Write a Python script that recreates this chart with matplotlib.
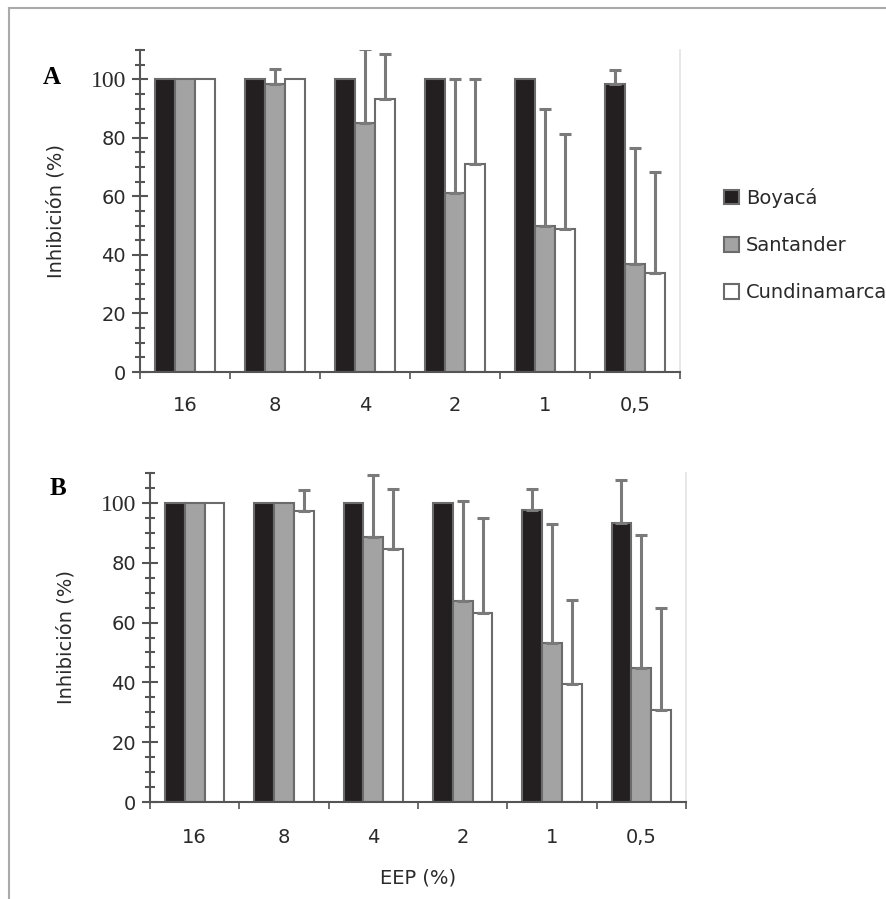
import matplotlib
matplotlib.use("Agg")
import matplotlib.pyplot as plt
import numpy as np
from matplotlib.lines import Line2D
from matplotlib.patches import Patch

categories = ["16", "8", "4", "2", "1", "0,5"]
series = ["Boyacá", "Santander", "Cundinamarca"]

a_boyaca = [100, 100, 100, 100, 100, 98.5]
a_santander = [100, 98.3, 85.2, 61.2, 49.8, 36.9]
a_cundinamarca = [100, 100, 93.2, 70.9, 49.0, 33.8]
a_err_boyaca = [0, 0, 0, 0, 0, 4.6]
a_err_santander = [0, 5.1, 25.1, 39.0, 40.2, 39.7]
a_err_cundinamarca = [0, 0, 15.4, 29.3, 32.4, 34.5]

b_boyaca = [100, 100, 100, 100, 97.5, 93.3]
b_santander = [100, 100, 88.6, 67.2, 53.3, 44.7]
b_cundinamarca = [100, 97.2, 84.5, 63.1, 39.5, 30.6]
b_err_boyaca = [0, 0, 0, 0, 7.0, 14.5]
b_err_santander = [0, 0, 20.8, 33.4, 39.7, 44.5]
b_err_cundinamarca = [0, 7.2, 20.2, 31.9, 28.1, 34.1]

colors = ["#231f20", "#a3a3a3", "#ffffff"]
edge = "#6b6b6b"
errc = "#7a7a7a"
txt = "#2a2a2a"

W, H = 886, 899
fig = plt.figure(figsize=(W / 100, H / 100), dpi=100)

def px_axes(l, r, t, b):
    return fig.add_axes([l / W, 1 - b / H, (r - l) / W, (b - t) / H])

axA = px_axes(140, 680, 50, 372)
axB = px_axes(150, 686, 473, 802)

def draw(ax, vals, errs, letter, letter_xy, ylab_right, xpad):
    x = np.arange(len(categories))
    w = 2 / 9
    for i, (v, e) in enumerate(zip(vals, errs)):
        xs = x + (i - 1) * w
        ax.bar(xs, v, width=w, color=colors[i], edgecolor=edge, linewidth=1.5, zorder=2)
        v = np.array(v, float); e = np.array(e, float)
        m = e > 0
        ax.errorbar(xs[m], v[m], yerr=[np.zeros(m.sum()), e[m]], fmt="none",
                    ecolor=errc, elinewidth=2.2, capsize=4, capthick=2.2, zorder=3)
    ax.set_xlim(-0.5, len(categories) - 0.5)
    ax.set_ylim(0, 110)
    ax.set_xticks(np.arange(len(categories) + 1) - 0.5)
    ax.set_xticklabels([])
    ax.set_xticks(x, minor=True)
    ax.set_xticklabels(categories, minor=True, fontsize=14, color=txt)
    ax.tick_params(axis="x", which="major", direction="out", length=5, width=1.2, color="#555555")
    ax.tick_params(axis="x", which="minor", length=0, pad=xpad)
    ax.set_yticks(np.arange(0, 101, 20))
    ax.set_yticks(np.arange(0, 111, 5), minor=True)
    ax.tick_params(axis="y", which="major", direction="inout", length=12, width=1.5, color="#555555", labelsize=14, labelcolor=txt, pad=4)
    ax.tick_params(axis="y", which="minor", direction="inout", length=7, width=1.5, color="#555555")
    for t in ax.get_yticklabels():
        if t.get_text() == "100":
            t.set_fontfamily("Liberation Serif")
            t.set_fontsize(17)
    for s in ["left", "bottom"]:
        ax.spines[s].set_color("#555555")
        ax.spines[s].set_linewidth(1.5)
    ax.spines["top"].set_visible(False)
    ax.spines["right"].set_color("#e3e3e3")
    ax.spines["right"].set_linewidth(1.2)
    ax.set_ylabel("Inhibición (%)", fontsize=14, color=txt)
    pos = ax.get_position()
    ax.yaxis.set_label_coords((ylab_right - pos.x0 * W) / (pos.width * W), 0.5)
    fig.text(letter_xy[0] / W, 1 - letter_xy[1] / H, letter, fontsize=18, fontweight="bold",
             family="Liberation Serif", ha="center", va="center")

draw(axA, [a_boyaca, a_santander, a_cundinamarca],
     [a_err_boyaca, a_err_santander, a_err_cundinamarca], "A", (52, 77), 65, 17)
draw(axB, [b_boyaca, b_santander, b_cundinamarca],
     [b_err_boyaca, b_err_santander, b_err_cundinamarca], "B", (58, 488), 76, 19)

axB.set_xlabel("EEP (%)", fontsize=14, color=txt, labelpad=15)

handles = [Patch(facecolor=colors[i], edgecolor=edge, linewidth=1.5) for i in range(3)]
fig.legend(handles, series, loc="center left", bbox_to_anchor=(706 / W, 1 - 245 / H),
           frameon=False, fontsize=14, handlelength=0.8, handleheight=0.8,
           handletextpad=0.35, labelspacing=1.45, labelcolor=txt)

fig.add_artist(Line2D([9 / W, 9 / W], [0, 1 - 8 / H], transform=fig.transFigure, color="#aaaaaa", lw=1.5))
fig.add_artist(Line2D([9 / W, 1], [1 - 8 / H, 1 - 8 / H], transform=fig.transFigure, color="#aaaaaa", lw=1.5))

fig.savefig("out.png", dpi=100)
